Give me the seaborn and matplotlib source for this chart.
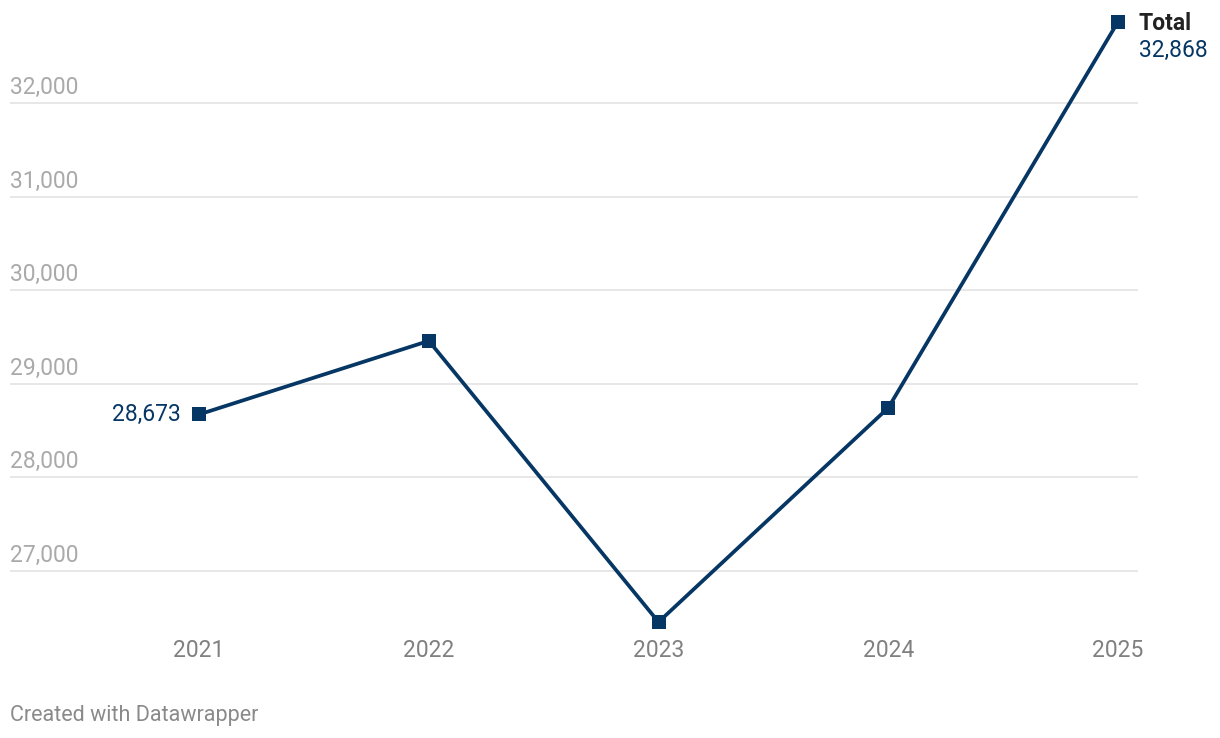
import matplotlib
matplotlib.use("Agg")
import matplotlib.pyplot as plt
import seaborn as sns
import pandas as pd

years = [2021, 2022, 2023, 2024, 2025]
totals = [28673, 29459, 26455, 28744, 32868]
y_ticks = [27000, 28000, 29000, 30000, 31000, 32000]
series_name = "Total"
footer = "Created with Datawrapper"

sns.set_theme(style="white")
plt.rcParams["font.family"] = ["Roboto", "DejaVu Sans"]

LINE = "#063764"
W, H = 1220, 738
fig = plt.figure(figsize=(W / 100, H / 100), dpi=100)
ax = fig.add_axes([10 / W, 1 - 630 / H, (1138 - 10) / W, (630 - 10) / H])

df = pd.DataFrame({"year": years, "total": totals})
sns.lineplot(data=df, x="year", y="total", ax=ax, color=LINE, linewidth=2.7,
             marker="s", markersize=9.5, markeredgewidth=0, legend=False)
for ln in ax.lines:
    ln.set_clip_on(False)
    ln.set_zorder(5)

ax.set_xlim(2020.177, 2025.087)
ax.set_ylim(26370, 32994)
for s in ax.spines.values():
    s.set_visible(False)
ax.set_xlabel("")
ax.set_ylabel("")

for v in y_ticks:
    ax.axhline(v, color="#e3e3e3", linewidth=1.2, zorder=1)
    ax.annotate(f"{v:,}", xy=(0, v), xycoords=("axes fraction", "data"),
                xytext=(0, 6.5), textcoords="offset points", ha="left", va="baseline",
                fontsize=16.5, color="#aaaaaa")
ax.set_yticks([])

ax.set_xticks(years)
ax.set_xticklabels([str(y) for y in years])
ax.tick_params(axis="x", length=0, pad=6.5, labelsize=16.5, labelcolor="#808080")

ax.annotate(f"{totals[0]:,}", xy=(years[0], totals[0]), xytext=(-13, 0),
            textcoords="offset points", ha="right", va="center",
            fontsize=16.5, color=LINE)
ax.annotate(series_name, xy=(years[-1], totals[-1]), xytext=(15, -1),
            textcoords="offset points", ha="left", va="center",
            fontsize=16.5, fontweight="bold", color="#222222", annotation_clip=False)
ax.annotate(f"{totals[-1]:,}", xy=(years[-1], totals[-1]), xytext=(15, -21),
            textcoords="offset points", ha="left", va="center",
            fontsize=16.5, color=LINE, annotation_clip=False)

fig.text(10 / W, 1 - 715 / H, footer, ha="left", va="center", fontsize=15.5, color="#8a8a8a")

fig.savefig("out.png", dpi=100)
